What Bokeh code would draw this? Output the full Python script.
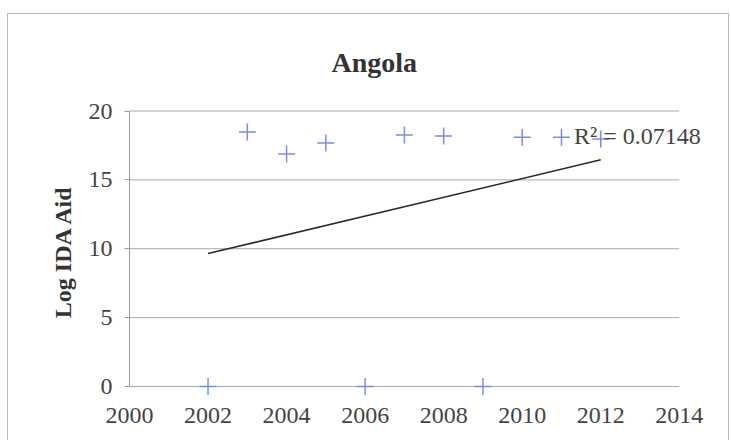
import numpy as np
from bokeh.plotting import figure
from bokeh.models import Range1d, Label, FixedTicker
from bokeh.embed import file_html
from bokeh.resources import INLINE

# data
years = [2002, 2003, 2004, 2005, 2006, 2007, 2008, 2009, 2010, 2011, 2012]
log_ida = [0.0, 18.47, 16.87, 17.67, 0.0, 18.25, 18.18, 0.0, 18.10, 18.10, 17.96]
x_ticks = [2000, 2002, 2004, 2006, 2008, 2010, 2012, 2014]
y_ticks = [0, 5, 10, 15, 20]
r2_text = "R² = 0.07148"

FONT = "Liberation Serif"

p = figure(width=722, height=427, output_backend="svg", toolbar_location=None,
           x_range=Range1d(2000, 2015.1), y_range=Range1d(-0.8, 20.4),
           min_border_left=121, min_border_right=8, min_border_top=91,
           min_border_bottom=44)
p.margin = (13, 0, 0, 7)
p.styles = {"border-top": "1px solid #b8b8b8", "border-left": "1px solid #b8b8b8",
            "border-right": "1px solid #b8b8b8"}
p.outline_line_color = None
p.background_fill_color = "white"
p.border_fill_color = "white"

# title
p.title.text = "Angola"
p.title.text_font = FONT
p.title.text_font_size = "28px"
p.title.text_font_style = "bold"
p.title.text_color = "#333333"
p.title.align = "left"
p.title.offset = 202
p.title.standoff = 56

# axes
p.xaxis.ticker = FixedTicker(ticks=x_ticks)
p.yaxis.ticker = FixedTicker(ticks=y_ticks)
p.xaxis.axis_line_color = None
p.xaxis.major_tick_line_color = None
p.xaxis.minor_tick_line_color = None
p.xaxis.major_label_standoff = 4
p.yaxis.bounds = (0, 20)
p.yaxis.axis_line_color = "#9a9a9a"
p.yaxis.major_tick_line_color = "#9a9a9a"
p.yaxis.major_tick_out = 5
p.yaxis.major_tick_in = 0
p.yaxis.minor_tick_line_color = None
p.yaxis.major_label_standoff = 12
p.yaxis.axis_label = "Log IDA Aid"
p.yaxis.axis_label_text_font = FONT
p.yaxis.axis_label_text_font_size = "24px"
p.yaxis.axis_label_text_font_style = "bold"
p.yaxis.axis_label_text_color = "#333333"
p.yaxis.axis_label_standoff = 10
for ax in (p.xaxis, p.yaxis):
    ax.major_label_text_font = FONT
    ax.major_label_text_font_size = "24px"
    ax.major_label_text_color = "#444444"

# horizontal grid lines spanning the x tick extent
p.xgrid.grid_line_color = None
p.ygrid.grid_line_color = None
p.segment(x0=[x_ticks[0]] * len(y_ticks), x1=[x_ticks[-1]] * len(y_ticks),
          y0=y_ticks, y1=y_ticks, line_color="#a8a8a8", line_width=1)

# trend line
coef = np.polyfit(years, log_ida, 1)
tx = [years[0], years[-1]]
ty = [float(np.polyval(coef, v)) for v in tx]
p.line(tx, ty, line_color="#2a2a2a", line_width=1.6)

# points
p.scatter(years, log_ida, marker="cross", size=17, line_color="#7b8ee6",
          line_width=1.5)

p.add_layout(Label(x=2011.32, y=18.2, text=r2_text, text_font=FONT,
                   text_font_size="24px", text_color="#444444",
                   text_baseline="middle"))

open("out.html", "w").write(file_html(p, INLINE))
